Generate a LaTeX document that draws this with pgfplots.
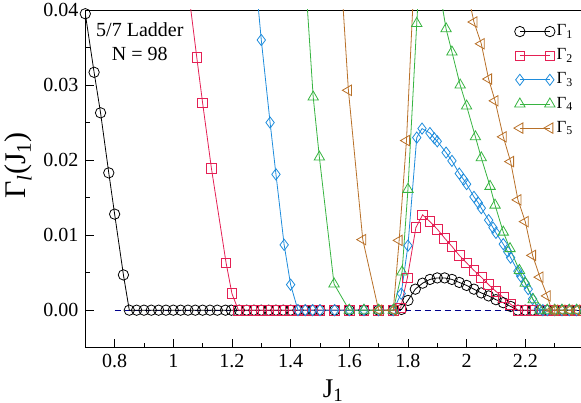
\documentclass[border=0pt]{standalone}
\usepackage{fontspec}
\setmainfont{Liberation Serif}
\usepackage{pgfplots}
\pgfplotsset{compat=1.18}
\definecolor{cred}{RGB}{228,32,84}
\definecolor{cblue}{RGB}{30,140,220}
\definecolor{cgreen}{RGB}{55,180,65}
\definecolor{cbrown}{RGB}{184,112,40}
\definecolor{cnavy}{RGB}{0,0,140}
\begin{document}
\fontsize{20}{24}\selectfont
\begin{tikzpicture}
\begin{axis}[name=ax, scale only axis, width=495.7pt, height=337.7pt,
  xmin=0.7, xmax=2.39, ymin=-0.005, ymax=0.04,
  axis x line*=box, axis y line*=left, xtick pos=left, ytick pos=left,
  axis line style={line width=0.9pt},
  tick align=inside, major tick length=9pt, minor tick length=5pt,
  tick style={black, line width=0.8pt},
  xtick={0.8,1,1.2,1.4,1.6,1.8,2,2.2},
  xticklabels={0.8,1,1.2,1.4,1.6,1.8,2,2.2},
  minor xtick={0.9,1.1,1.3,1.5,1.7,1.9,2.1,2.3},
  ytick={0,0.01,0.02,0.03,0.04},
  yticklabels={0.00,0.01,0.02,0.03,0.04},
  minor ytick={-0.005,0.005,0.015,0.025,0.035},
  ticklabel style={font=\fontsize{20}{24}\selectfont},
  xlabel={J\textsubscript{1}}, xlabel style={font=\fontsize{27}{30}\selectfont, yshift=2pt},
  ylabel={Γ\textsubscript{\textit{l}}(J\textsubscript{1})},
  ylabel style={font=\fontsize{30}{34}\selectfont, at={(ticklabel cs:0.54)}, yshift=-2pt},
  every axis plot/.append style={line width=0.8pt, mark options={solid, line width=0.8pt, fill=white}},
  legend image code/.code={\draw[#1] plot coordinates {(0pt,0pt) (30pt,0pt)};},
  legend style={draw=none, fill=none, at={(rel axis cs:0.993,0.968)}, anchor=north east,
    font=\fontsize{17}{20}\selectfont, row sep=7pt,
    nodes={inner sep=1.5pt}},
  legend cell align=left,
]
\addplot[cnavy, dashed, dash pattern=on 6pt off 4pt, forget plot] coordinates {(0.8,0) (2.4,0)};
\addplot[black, mark=o, mark size=5.2pt] coordinates {
(0.70,0.0395)(0.73,0.0317)(0.752,0.0263)(0.78,0.0183)(0.80,0.0128)(0.83,0.0047)(0.85,0)
(0.875,0)(0.9,0)(0.925,0)(0.95,0)(0.975,0)(1.0,0)(1.025,0)(1.05,0)(1.075,0)(1.1,0)(1.125,0)(1.15,0)
(1.178,0)(1.198,0)(1.225,0)(1.25,0)(1.275,0)(1.3,0)(1.325,0)(1.35,0)(1.375,0)(1.4,0)(1.425,0)(1.45,0)(1.475,0)(1.5,0)
(1.55,0)(1.6,0)(1.65,0)(1.7,0)(1.75,0)
(1.778,0.0001)(1.80,0.0013)(1.825,0.0028)(1.85,0.0036)(1.875,0.0041)(1.90,0.0043)(1.925,0.0043)(1.95,0.0041)
(1.975,0.0037)(2.0,0.0033)(2.025,0.0028)(2.05,0.0023)(2.075,0.0019)(2.1,0.0014)(2.125,0.0010)(2.15,0.0005)
(2.175,0)(2.2,0)(2.225,0)(2.25,0)(2.275,0)(2.3,0)(2.325,0)(2.35,0)(2.375,0)};
\addlegendentry{Γ\textsubscript{1}}
\addplot[cred, mark=square, mark size=4.8pt] coordinates {
(1.05,0.0431)(1.08,0.0337)(1.10,0.0276)(1.13,0.0189)(1.18,0.0063)(1.20,0.0022)(1.222,0)
(1.25,0)(1.275,0)(1.3,0)(1.325,0)(1.35,0)(1.375,0)(1.4,0)(1.425,0)(1.45,0)(1.475,0)(1.5,0)
(1.55,0)(1.6,0)(1.65,0)(1.7,0)(1.75,0)
(1.775,0.0003)(1.798,0.0043)(1.827,0.0110)(1.85,0.0127)(1.875,0.0118)(1.90,0.0108)(1.925,0.0096)(1.95,0.0085)
(1.975,0.0073)(2.0,0.0063)(2.025,0.0053)(2.05,0.0044)(2.075,0.0034)(2.1,0.0025)(2.125,0.0017)(2.15,0.0008)
(2.175,0)(2.2,0)(2.225,0)(2.25,0)(2.275,0)(2.3,0)(2.325,0)(2.35,0)(2.375,0)};
\addlegendentry{Γ\textsubscript{2}}
\addplot[cblue, mark=diamond, mark size=5.6pt] coordinates {
(1.275,0.0466)(1.30,0.0360)(1.33,0.0250)(1.35,0.0181)(1.378,0.0087)(1.40,0.0034)(1.425,0)
(1.45,0)(1.475,0)(1.5,0)(1.55,0)(1.6,0)(1.65,0)(1.7,0)(1.75,0)
(1.777,0.0022)(1.80,0.0086)(1.83,0.0230)(1.848,0.0242)(1.875,0.0236)(1.89,0.0229)(1.90,0.0225)
(1.93,0.0210)(1.95,0.0199)(1.975,0.0182)(1.99,0.0174)(2.0,0.0168)(2.025,0.0151)(2.04,0.0143)(2.05,0.0136)
(2.075,0.0120)(2.09,0.0110)(2.10,0.0103)(2.125,0.0088)(2.14,0.0078)(2.15,0.0070)(2.175,0.0052)(2.185,0.0045)
(2.20,0.0036)(2.21,0.0028)(2.225,0.0015)(2.245,0.0002)(2.26,0)
(2.275,0)(2.3,0)(2.325,0)(2.35,0)(2.375,0)};
\addlegendentry{Γ\textsubscript{3}}
\addplot[cgreen, mark=triangle, mark size=6.0pt] coordinates {
(1.45,0.0445)(1.477,0.0284)(1.498,0.0204)(1.548,0.0035)(1.60,0)(1.65,0)(1.70,0)(1.75,0)
(1.78,0.0051)(1.80,0.0161)(1.83,0.0382)(1.85,0.0520)(1.875,0.0540)(1.90,0.0445)
(1.93,0.0375)(1.95,0.0344)(1.978,0.0300)(2.0,0.0272)(2.03,0.0231)(2.05,0.0203)(2.08,0.0165)(2.097,0.0140)
(2.125,0.0104)(2.148,0.0082)(2.18,0.0053)(2.20,0.0036)(2.227,0.0014)(2.25,0)
(2.275,0)(2.3,0)(2.325,0)(2.35,0)(2.375,0)};
\addlegendentry{Γ\textsubscript{4}}
\addplot[cbrown, mark=triangle, mark size=6.0pt, mark options={rotate=90}] coordinates {
(1.55,0.0580)(1.597,0.0293)(1.646,0.0094)(1.70,0)(1.75,0)
(1.77,0.0093)(1.795,0.0226)(1.825,0.0475)(1.875,0.06)(1.95,0.055)(2.0,0.0430)
(2.025,0.0384)(2.05,0.0355)(2.075,0.0308)(2.097,0.0279)(2.125,0.0231)(2.15,0.0198)(2.175,0.0147)
(2.2,0.0118)(2.225,0.0073)(2.25,0.0044)(2.275,0.0019)(2.29,0)
(2.3,0)(2.325,0)(2.35,0)(2.375,0)};
\addlegendentry{Γ\textsubscript{5}}
\node[align=center, font=\fontsize{20}{24}\selectfont] at (rel axis cs:0.110,0.905) {5/7 Ladder\\N = 98};
\end{axis}
\pgfresetboundingbox
\path ([xshift=-85.3pt,yshift=-54.3pt]ax.south west) rectangle ([yshift=10pt]ax.north east);
\end{tikzpicture}
\end{document}
